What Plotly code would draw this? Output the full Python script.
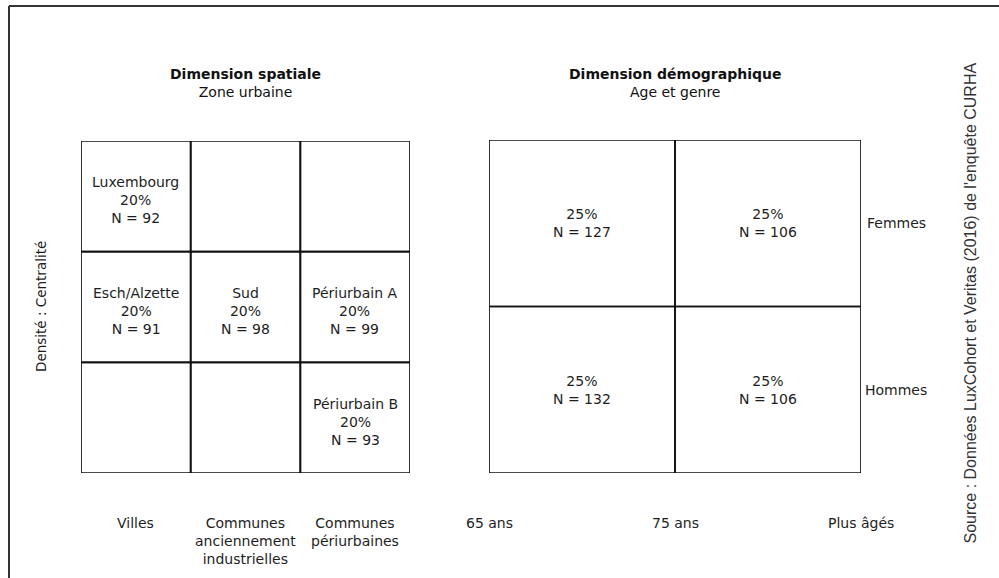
import plotly.graph_objects as go

# ---- data ----
spatial_cols = ["Villes", "Communes<br>anciennement<br>industrielles", "Communes<br>périurbaines"]
spatial_names = ["Luxembourg", "Esch/Alzette", "Sud", "Périurbain A", "Périurbain B"]
spatial_col_idx = [0, 0, 1, 2, 2]
spatial_row_idx = [2, 1, 1, 1, 0]   # 0 = bottom row
spatial_pct = [20, 20, 20, 20, 20]
spatial_n = [92, 91, 98, 99, 93]

demo_ticks = ["65 ans", "75 ans", "Plus âgés"]
demo_rows = ["Hommes", "Femmes"]      # bottom to top
demo_col_idx = [0, 1, 0, 1]
demo_row_idx = [1, 1, 0, 0]
demo_pct = [25, 25, 25, 25]
demo_n = [127, 106, 132, 106]

FONT = "DejaVu Sans"
W, H = 999, 578
TXT = "#1e1e1e"

fig = go.Figure()

fig.update_layout(
    width=W, height=H,
    margin=dict(l=0, r=0, t=0, b=0),
    paper_bgcolor="white", plot_bgcolor="white",
    showlegend=False,
    font=dict(family=FONT, size=14, color=TXT),
    xaxis=dict(domain=[81 / W, 410 / W], range=[0, 3], visible=False, fixedrange=True),
    yaxis=dict(domain=[(H - 473) / H, (H - 141) / H], range=[0, 3], visible=False, fixedrange=True),
    xaxis2=dict(domain=[489 / W, 861 / W], range=[0, 2], visible=False, anchor="y2", fixedrange=True),
    yaxis2=dict(domain=[(H - 473) / H, (H - 140) / H], range=[0, 2], visible=False, anchor="x2", fixedrange=True),
)

fig.add_trace(go.Scatter(x=[0, 3], y=[0, 3], mode="markers", marker=dict(opacity=0), hoverinfo="skip", xaxis="x", yaxis="y"))
fig.add_trace(go.Scatter(x=[0, 2], y=[0, 2], mode="markers", marker=dict(opacity=0), hoverinfo="skip", xaxis="x2", yaxis="y2"))

LINE = dict(color="#111111", width=1.7)

# spatial grid (3x3)
ncols = len(spatial_cols)
for c in range(ncols):
    for r in range(3):
        fig.add_shape(type="rect", xref="x", yref="y", x0=c, x1=c + 1, y0=r, y1=r + 1,
                      line=LINE, fillcolor="rgba(0,0,0,0)")
for name, c, r, p, n in zip(spatial_names, spatial_col_idx, spatial_row_idx, spatial_pct, spatial_n):
    fig.add_annotation(xref="x", yref="y", x=c + 0.5, y=r + 0.5, showarrow=False,
                       text=f"{name}<br>{p}%<br>N = {n}", align="center",
                       font=dict(family=FONT, size=14, color=TXT), yshift=-4)
for i, lab in enumerate(spatial_cols):
    fig.add_annotation(xref="x", yref="y", x=i + 0.5, y=0, yshift=-40, yanchor="top",
                       showarrow=False, text=lab, align="center",
                       font=dict(family=FONT, size=14, color=TXT))

# demographic grid (2x2)
for c in range(2):
    for r in range(2):
        fig.add_shape(type="rect", xref="x2", yref="y2", x0=c, x1=c + 1, y0=r, y1=r + 1,
                      line=LINE, fillcolor="rgba(0,0,0,0)")
for c, r, p, n in zip(demo_col_idx, demo_row_idx, demo_pct, demo_n):
    fig.add_annotation(xref="x2", yref="y2", x=c + 0.5, y=r + 0.5, showarrow=False,
                       text=f"{p}%<br>N = {n}", align="center", yshift=0,
                       font=dict(family=FONT, size=14, color=TXT))
for i, lab in enumerate(demo_ticks):
    fig.add_annotation(xref="x2", yref="y2", x=i, y=0, yshift=-40, yanchor="top",
                       showarrow=False, text=lab, align="center",
                       font=dict(family=FONT, size=14, color=TXT))
for i, lab in enumerate(demo_rows):
    fig.add_annotation(xref="x2 domain", yref="y2", x=1, y=i + 0.5, xshift=35, xanchor="center",
                       showarrow=False, text=lab,
                       font=dict(family=FONT, size=14, color=TXT))

# titles
fig.add_annotation(xref="x domain", yref="paper", x=0.5, y=(H - 83) / H, showarrow=False,
                   text="<b>Dimension spatiale</b><br>Zone urbaine", yanchor="middle",
                   font=dict(family=FONT, size=14, color="#111"))
fig.add_annotation(xref="x2 domain", yref="paper", x=0.5, y=(H - 83) / H, showarrow=False,
                   text="<b>Dimension démographique</b><br>Age et genre", yanchor="middle",
                   font=dict(family=FONT, size=14, color="#111"))

# y axis title of spatial grid
fig.add_annotation(xref="paper", yref="y", x=31 / W, y=1.5, showarrow=False, textangle=-90,
                   text="Densité : Centralité", font=dict(family=FONT, size=13.5, color=TXT))

# source
fig.add_annotation(xref="paper", yref="paper", x=981 / W, y=(H - 303) / H, showarrow=False, textangle=-90,
                   text="Source : Données LuxCohort et Veritas (2016) de l'enquête CURHA",
                   font=dict(family="Liberation Sans", size=16, color="#333"))

# outer frame (left and top edges)
fig.add_shape(type="line", xref="paper", yref="paper", x0=9 / W, x1=9 / W, y0=0, y1=(H - 6) / H,
              line=dict(color="#333", width=2))
fig.add_shape(type="line", xref="paper", yref="paper", x0=9 / W, x1=1, y0=(H - 6) / H, y1=(H - 6) / H,
              line=dict(color="#333", width=2))

fig.write_html("out.html", config={"displayModeBar": False},
               post_script="document.body.style.margin='0';document.body.style.overflow='hidden';")
